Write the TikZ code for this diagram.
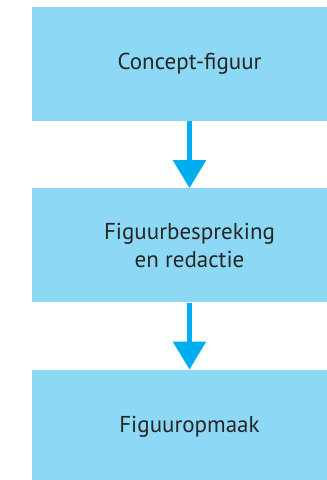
\documentclass[tikz,border=0pt]{standalone}
\usepackage{fontspec}
\setmainfont{PT Sans}
\usetikzlibrary{positioning,arrows.meta}
\definecolor{stapblauw}{HTML}{8DD8F5}
\definecolor{pijlblauw}{HTML}{00AEEF}

\begin{document}
\begin{tikzpicture}[x=1pt,y=1pt,
	stap/.style={fill=stapblauw,minimum width=315pt,minimum height=114pt,inner sep=0pt,align=center,font=\fontsize{23}{27.5}\selectfont,text=black!85},
	pijl/.style={draw=pijlblauw,line width=5.5pt,-{Triangle[width=32pt,length=28pt]}}]
	\useasboundingbox (0,0) rectangle (327,-480);
	\clip (0,0) rectangle (327,-480);
	\node[stap] (concept) at (189.5,-64) {Concept-figuur};
	\node[stap,below=67pt of concept] (bespreking) {Figuurbespreking\\en redactie};
	\node[stap,below=67pt of bespreking] (opmaak) {Figuuropmaak};
	\draw[pijl] (concept) -- (bespreking);
	\draw[pijl] (bespreking) -- (opmaak);
\end{tikzpicture}
\end{document}
